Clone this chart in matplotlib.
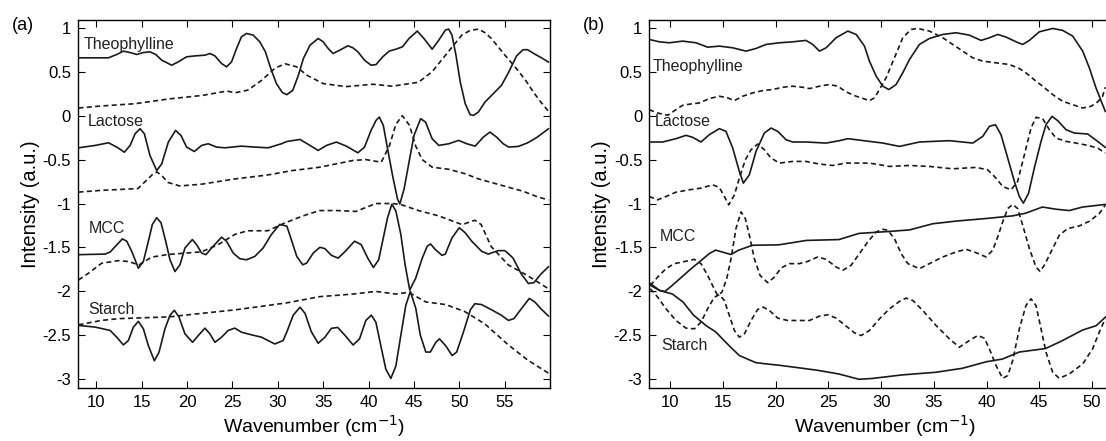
import matplotlib
matplotlib.use('Agg')
import matplotlib.pyplot as plt
from matplotlib.ticker import FuncFormatter

plt.rcParams['font.family'] = ['Liberation Sans', 'DejaVu Sans']

# ---- panel (a) ----
a_theo_x = [8.06, 11.36, 12.27, 13.0, 13.74, 14.47, 15.2, 15.93, 16.56, 17.22, 18.32, 19.05, 19.96, 20.88, 21.98, 22.53,
            23.08, 23.81, 24.36, 24.91, 25.46, 26.0, 26.56, 27.29, 28.02, 28.64, 29.23, 29.85, 30.51, 31.0, 31.65, 32.27,
            32.82, 33.55, 34.45, 35.0, 35.55, 36.09, 36.82, 37.73, 38.27, 38.82, 39.55, 40.27, 40.82, 41.55, 42.27, 43.0,
            43.73, 44.45, 45.36, 46.09, 47.0, 47.73, 48.45, 48.82, 49.18, 49.62, 50.09, 50.64, 51.18, 51.55, 52.09, 52.82,
            53.73, 54.64, 55.44, 56.3, 57.0, 57.5, 58.3, 59.0, 59.8]
a_theo_s = [0.658, 0.658, 0.696, 0.734, 0.718, 0.696, 0.718, 0.726, 0.696, 0.631, 0.574, 0.612, 0.669, 0.680, 0.688, 0.707,
            0.680, 0.593, 0.555, 0.612, 0.764, 0.897, 0.935, 0.916, 0.84, 0.726, 0.536, 0.365, 0.262, 0.239, 0.288, 0.46,
            0.65, 0.802, 0.878, 0.84, 0.764, 0.707, 0.745, 0.795, 0.772, 0.726, 0.631, 0.574, 0.581, 0.669, 0.734, 0.756,
            0.783, 0.878, 0.962, 0.878, 0.756, 0.859, 0.973, 0.985, 0.916, 0.688, 0.384, 0.136, 0.011, 0.003, 0.041, 0.155,
            0.25, 0.346, 0.498, 0.68, 0.75, 0.75, 0.70, 0.66, 0.61]
a_theo_dx = [8.06, 10.6, 14.3, 18.0, 21.7, 24.4, 25.3, 26.7, 28.2, 29.7, 30.8, 32.1, 33.2, 35.0, 37.5, 40.5, 42.6, 45.5, 47.0,
             48.8, 50.3, 51.2, 52.1, 52.8, 53.5, 55.0, 56.4, 57.3, 58.2, 59.0, 59.8]
a_theo_d = [0.087, 0.11, 0.136, 0.19, 0.23, 0.28, 0.26, 0.29, 0.40, 0.54, 0.59, 0.555, 0.46, 0.365, 0.33, 0.357, 0.335, 0.38,
            0.50, 0.73, 0.92, 0.97, 0.985, 0.945, 0.88, 0.69, 0.52, 0.40, 0.26, 0.15, 0.05]

a_lac_x = [8.06, 9.89, 11.36, 12.27, 13.11, 13.74, 14.29, 14.84, 15.31, 15.93, 16.67, 17.22, 17.95, 18.75, 19.34, 19.96,
           20.81, 21.61, 22.34, 23.26, 24.18, 26.0, 27.47, 28.94, 30.4, 31.0, 32.45, 33.55, 34.45, 35.36, 36.45, 37.55,
           38.82, 39.55, 40.27, 40.82, 41.18, 41.62, 42.09, 42.64, 43.18, 43.44, 43.91, 44.45, 45.0, 45.73, 46.27, 47.0,
           47.73, 48.82, 49.91, 50.82, 51.73, 52.64, 53.36, 54.09, 54.82, 55.44, 56.5, 57.5, 58.5, 59.8]
a_lac_s = [-0.366, -0.339, -0.309, -0.358, -0.416, -0.339, -0.206, -0.149, -0.206, -0.454, -0.625, -0.549, -0.301, -0.168,
           -0.225, -0.358, -0.408, -0.339, -0.32, -0.358, -0.366, -0.347, -0.358, -0.366, -0.32, -0.294, -0.271, -0.339,
           -0.396, -0.339, -0.301, -0.347, -0.423, -0.358, -0.168, -0.054, -0.016, -0.111, -0.377, -0.682, -0.948, -1.005,
           -0.834, -0.53, -0.225, -0.035, -0.073, -0.263, -0.339, -0.32, -0.282, -0.32, -0.347, -0.244, -0.187, -0.244,
           -0.32, -0.358, -0.35, -0.31, -0.25, -0.15]
a_lac_dx = [8.06, 10.6, 14.6, 15.6, 16.2, 16.7, 17.3, 17.9, 19.2, 21.6, 25.3, 28.9, 31.6, 34.6, 38.3, 39.7, 41.4, 42.3, 43.0,
            43.7, 44.5, 45.2, 45.9, 47.0, 48.8, 50.6, 52.1, 53.5, 55.4, 57.0, 58.5, 59.8]
a_lac_d = [-0.87, -0.85, -0.83, -0.73, -0.67, -0.64, -0.69, -0.76, -0.80, -0.78, -0.72, -0.675, -0.625, -0.587, -0.51, -0.50,
           -0.53, -0.34, -0.10, 0.0, -0.11, -0.35, -0.50, -0.587, -0.61, -0.66, -0.72, -0.76, -0.815, -0.86, -0.92, -0.96]

a_mcc_x = [8.06, 10.99, 11.54, 12.89, 13.37, 13.92, 14.65, 15.2, 15.75, 16.19, 16.67, 17.14, 17.66, 18.13, 18.68, 19.23,
           19.78, 20.59, 21.06, 21.61, 22.09, 22.71, 23.81, 24.36, 25.09, 25.82, 26.56, 27.47, 28.39, 29.3, 30.22, 31.0,
           31.55, 32.09, 32.75, 33.18, 33.91, 34.64, 35.18, 35.91, 36.64, 37.36, 38.45, 39.18, 39.91, 40.53, 41.11, 41.62,
           42.09, 42.56, 43.0, 43.55, 44.02, 44.53, 45.18, 45.91, 46.45, 46.82, 47.36, 48.09, 48.45, 49.18, 49.98, 50.64,
           51.36, 52.45, 53.18, 54.27, 55.0, 55.44, 55.9, 56.8, 57.6, 58.2, 59.0, 59.8]
a_mcc_s = [-1.582, -1.575, -1.552, -1.402, -1.429, -1.544, -1.736, -1.659, -1.429, -1.238, -1.161, -1.218, -1.429, -1.64,
           -1.774, -1.697, -1.506, -1.41, -1.467, -1.563, -1.582, -1.506, -1.383, -1.429, -1.563, -1.628, -1.64, -1.602,
           -1.506, -1.352, -1.238, -1.257, -1.429, -1.602, -1.697, -1.678, -1.563, -1.498, -1.513, -1.59, -1.621, -1.552,
           -1.429, -1.467, -1.621, -1.728, -1.64, -1.391, -1.161, -1.008, -1.084, -1.352, -1.697, -1.985, -1.851, -1.621,
           -1.487, -1.46, -1.525, -1.59, -1.575, -1.391, -1.276, -1.333, -1.429, -1.544, -1.575, -1.536, -1.536, -1.575,
           -1.62, -1.80, -1.91, -1.90, -1.80, -1.72]
a_mcc_dx = [8.06, 9.2, 10.6, 12.4, 13.6, 14.7, 16.1, 17.9, 21.6, 23.4, 25.3, 26.7, 28.9, 30.8, 32.8, 34.6, 36.5, 38.6, 40.8,
            42.6, 43.5, 45.5, 47.7, 50.3, 51.7, 52.4, 53.5, 55.4, 57.5, 59.8]
a_mcc_d = [-1.87, -1.79, -1.68, -1.65, -1.66, -1.70, -1.61, -1.58, -1.55, -1.47, -1.35, -1.31, -1.31, -1.22, -1.14, -1.08,
           -1.08, -1.09, -1.0, -1.0, -1.01, -1.08, -1.14, -1.24, -1.19, -1.24, -1.49, -1.70, -1.82, -1.97]

a_sta_x = [8.06, 9.89, 11.54, 12.27, 13.0, 13.55, 14.1, 14.65, 15.2, 15.75, 16.41, 16.92, 17.58, 18.13, 18.61, 19.12, 19.78,
           20.62, 21.25, 21.98, 22.53, 23.08, 23.81, 24.54, 25.27, 26.0, 27.11, 28.21, 29.67, 30.59, 31.0, 31.7, 32.45,
           33.0, 33.7, 34.45, 35.2, 35.9, 36.6, 37.4, 38.3, 39.0, 39.7, 40.3, 40.8, 41.35, 41.9, 42.45, 43.0, 43.55, 44.1,
           44.6, 45.2, 45.7, 46.3, 46.8, 47.4, 47.8, 48.5, 49.2, 49.7, 50.45, 51.2, 51.7, 52.45, 53.55, 54.6, 55.4, 56.0,
           56.8, 57.7, 58.3, 59.0, 59.8]
a_sta_s = [-2.387, -2.406, -2.444, -2.521, -2.609, -2.559, -2.406, -2.341, -2.425, -2.617, -2.789, -2.693, -2.425, -2.272,
           -2.215, -2.291, -2.483, -2.579, -2.502, -2.418, -2.483, -2.579, -2.521, -2.444, -2.418, -2.464, -2.494, -2.521,
           -2.598, -2.559, -2.46, -2.27, -2.18, -2.25, -2.46, -2.59, -2.52, -2.42, -2.41, -2.50, -2.61, -2.54, -2.33, -2.27,
           -2.35, -2.62, -2.885, -2.99, -2.85, -2.50, -2.157, -2.0, -2.195, -2.50, -2.69, -2.69, -2.58, -2.54, -2.62, -2.73,
           -2.69, -2.46, -2.21, -2.14, -2.15, -2.21, -2.27, -2.33, -2.31, -2.20, -2.08, -2.12, -2.20, -2.28]
a_sta_dx = [8.06, 10.6, 12.45, 18.0, 21.6, 25.3, 28.9, 31.0, 34.6, 38.3, 40.8, 43.0, 44.4, 46.3, 48.5, 50.6, 52.8, 55.4, 57.5,
            59.8]
a_sta_d = [-2.38, -2.33, -2.31, -2.29, -2.25, -2.21, -2.16, -2.13, -2.06, -2.03, -2.0, -2.03, -2.01, -2.12, -2.15, -2.23,
           -2.37, -2.61, -2.78, -2.93]

# ---- panel (b) ----
b_theo_x = [8.0, 8.96, 9.91, 11.17, 12.44, 13.54, 14.65, 15.92, 17.18, 18.13, 19.08, 20.35, 21.61, 22.88, 23.51, 24.15,
            24.78, 25.73, 26.84, 27.63, 28.42, 28.89, 29.53, 30.16, 30.73, 31.42, 32.05, 32.69, 33.63, 34.58, 35.85, 37.11,
            38.37, 39.48, 40.27, 41.06, 41.85, 42.8, 43.43, 44.06, 45.01, 46.27, 47.22, 48.17, 49.12, 49.75, 50.38, 51.01,
            51.26]
b_theo_s = [0.867, 0.84, 0.829, 0.848, 0.829, 0.779, 0.791, 0.772, 0.734, 0.764, 0.81, 0.829, 0.84, 0.856, 0.81, 0.734,
            0.772, 0.886, 0.962, 0.924, 0.791, 0.62, 0.449, 0.335, 0.297, 0.354, 0.487, 0.639, 0.81, 0.878, 0.924, 0.943,
            0.916, 0.856, 0.886, 0.924, 0.894, 0.84, 0.81, 0.856, 0.954, 0.992, 0.97, 0.905, 0.734, 0.544, 0.316, 0.125,
            0.049]
b_theo_dx = [8.0, 8.8, 9.75, 10.54, 11.17, 11.96, 12.75, 13.7, 14.65, 15.44, 16.08, 16.87, 17.82, 18.77, 19.72, 20.66, 21.61,
             22.56, 23.2, 24.15, 25.09, 25.89, 26.68, 27.63, 28.58, 28.89, 29.37, 29.84, 30.47, 31.26, 32.05, 32.84, 33.48,
             34.58, 35.85, 36.79, 37.74, 38.69, 39.64, 40.9, 42.16, 43.11, 43.74, 44.69, 45.32, 46.27, 47.22, 48.17, 49.12,
             49.91, 50.54, 51.01, 51.26]
b_theo_d = [0.068, 0.03, 0.004, 0.068, 0.118, 0.133, 0.144, 0.194, 0.221, 0.202, 0.171, 0.221, 0.259, 0.285, 0.297, 0.323,
            0.335, 0.323, 0.308, 0.335, 0.354, 0.335, 0.27, 0.221, 0.183, 0.171, 0.202, 0.297, 0.43, 0.658, 0.886, 0.981,
            0.992, 0.962, 0.886, 0.81, 0.734, 0.658, 0.62, 0.601, 0.582, 0.536, 0.487, 0.392, 0.335, 0.24, 0.163, 0.125,
            0.087, 0.106, 0.156, 0.221, 0.323]

b_lac_x = [8.0, 9.27, 10.54, 11.49, 12.12, 12.91, 13.7, 14.65, 15.28, 15.92, 16.55, 16.93, 17.5, 18.13, 18.92, 19.56, 20.19,
           20.98, 21.61, 22.88, 24.78, 26.04, 26.84, 28.89, 30.16, 31.74, 33.63, 36.48, 38.69, 39.64, 40.27, 40.84, 41.37,
           42.01, 42.64, 43.11, 43.49, 43.99, 44.53, 45.17, 45.64, 46.21, 46.75, 47.54, 48.33, 49.59, 50.54, 51.26]
b_lac_s = [-0.30, -0.30, -0.262, -0.224, -0.247, -0.30, -0.217, -0.148, -0.179, -0.369, -0.635, -0.768, -0.673, -0.407,
           -0.198, -0.141, -0.179, -0.274, -0.30, -0.30, -0.312, -0.285, -0.262, -0.293, -0.312, -0.35, -0.30, -0.285,
           -0.312, -0.236, -0.122, -0.103, -0.217, -0.483, -0.749, -0.92, -0.996, -0.882, -0.597, -0.293, -0.103, -0.008,
           -0.057, -0.16, -0.198, -0.209, -0.293, -0.361]
b_lac_dx = [8.0, 8.8, 9.59, 10.54, 11.8, 12.91, 14.02, 14.65, 15.13, 15.54, 16.08, 16.55, 17.12, 17.66, 18.29, 18.92, 19.56,
            20.35, 21.61, 22.88, 24.15, 25.41, 26.68, 28.89, 30.79, 32.69, 34.58, 36.79, 39.0, 40.11, 40.9, 41.53, 42.32,
            42.95, 43.59, 44.22, 44.69, 45.32, 45.96, 46.59, 47.54, 48.48, 49.59, 50.54, 51.26]
b_lac_d = [-0.92, -0.958, -0.92, -0.871, -0.844, -0.825, -0.787, -0.817, -0.92, -1.015, -0.901, -0.711, -0.502, -0.388,
           -0.323, -0.388, -0.483, -0.54, -0.521, -0.521, -0.551, -0.567, -0.54, -0.54, -0.578, -0.567, -0.578, -0.605,
           -0.589, -0.616, -0.711, -0.806, -0.844, -0.749, -0.445, -0.141, -0.019, -0.034, -0.16, -0.255, -0.293, -0.312,
           -0.338, -0.369, -0.426]

b_mcc_x = [8.1, 9.0, 9.5, 10.2, 11.8, 13.7, 14.3, 15.75, 16.5, 17.8, 20.3, 22.9, 26.0, 27.9, 29.2, 30.5, 32.7, 34.9, 37.1,
           40.0, 42.5, 43.7, 45.3, 46.6, 47.85, 49.1, 51.3]
b_mcc_s = [-1.93, -1.99, -2.0, -1.93, -1.76, -1.57, -1.53, -1.58, -1.53, -1.475, -1.47, -1.42, -1.41, -1.34, -1.33, -1.32,
           -1.30, -1.23, -1.20, -1.17, -1.14, -1.11, -1.04, -1.065, -1.08, -1.04, -1.01]
b_mcc_dx = [8.1, 8.8, 9.59, 10.38, 11.17, 12.28, 12.91, 13.54, 14.08, 14.49, 14.9, 15.35, 15.76, 16.23, 16.71, 17.12, 17.5,
            17.97, 18.51, 19.24, 19.87, 20.51, 21.3, 22.25, 23.04, 23.99, 24.78, 25.73, 26.36, 27.15, 27.94, 28.73, 29.53,
            30.16, 30.63, 31.26, 31.9, 32.53, 33.63, 34.58, 35.85, 37.11, 38.06, 39.0, 39.95, 40.58, 41.06, 41.53, 42.01,
            42.48, 42.95, 43.43, 44.06, 44.69, 45.07, 45.48, 46.11, 46.9, 47.69, 48.8, 49.75, 50.69, 51.26]
b_mcc_d = [-1.932, -1.837, -1.741, -1.684, -1.665, -1.635, -1.684, -1.817, -1.951, -2.046, -2.008, -1.856, -1.627, -1.285,
           -1.095, -1.171, -1.361, -1.627, -1.817, -1.901, -1.837, -1.734, -1.684, -1.684, -1.658, -1.608, -1.635, -1.722,
           -1.76, -1.703, -1.57, -1.437, -1.323, -1.293, -1.304, -1.399, -1.57, -1.684, -1.741, -1.684, -1.608, -1.551,
           -1.521, -1.559, -1.608, -1.532, -1.38, -1.209, -1.057, -1.011, -1.057, -1.247, -1.513, -1.722, -1.772, -1.703,
           -1.551, -1.361, -1.285, -1.255, -1.202, -1.114, -1.019]

b_sta_x = [8.1, 9.0, 10.2, 11.2, 12.2, 13.4, 14.3, 15.6, 16.55, 18.1, 19.1, 20.3, 22.25, 24.1, 26.0, 27.9, 29.2, 32.0, 35.2,
           37.7, 40.0, 41.5, 43.1, 45.6, 47.2, 49.1, 50.4, 51.3]
b_sta_s = [-1.91, -1.99, -2.03, -2.12, -2.27, -2.39, -2.46, -2.62, -2.73, -2.81, -2.825, -2.84, -2.87, -2.90, -2.94, -3.0,
           -2.99, -2.95, -2.92, -2.875, -2.80, -2.77, -2.69, -2.65, -2.56, -2.44, -2.39, -2.29]
b_sta_dx = [8.1, 8.8, 9.59, 10.54, 11.49, 12.28, 12.91, 13.54, 14.18, 14.65, 15.13, 15.6, 16.08, 16.55, 17.03, 17.66, 18.29,
            18.83, 19.4, 20.19, 21.14, 22.25, 23.2, 24.15, 24.94, 25.73, 26.68, 27.47, 28.1, 28.89, 29.84, 30.79, 31.74,
            32.37, 33.0, 33.95, 35.21, 36.48, 37.42, 38.37, 39.16, 39.79, 40.27, 40.9, 41.53, 42.01, 42.48, 43.11, 43.74,
            44.22, 44.69, 45.17, 45.64, 46.27, 46.9, 47.85, 49.12, 50.06, 50.69, 51.26]
b_sta_d = [-1.97, -2.065, -2.198, -2.331, -2.418, -2.426, -2.35, -2.198, -2.065, -2.038, -2.103, -2.274, -2.445, -2.521,
           -2.483, -2.331, -2.205, -2.179, -2.217, -2.304, -2.331, -2.331, -2.331, -2.281, -2.266, -2.304, -2.395, -2.471,
           -2.502, -2.445, -2.312, -2.198, -2.114, -2.076, -2.103, -2.217, -2.388, -2.54, -2.635, -2.559, -2.502, -2.532,
           -2.654, -2.844, -2.989, -2.958, -2.787, -2.426, -2.16, -2.084, -2.16, -2.426, -2.692, -2.92, -2.989, -2.939,
           -2.825, -2.654, -2.464, -2.312]

names = ['Theophylline', 'Lactose', 'MCC', 'Starch']
a_label_pos = [(8.6, 0.81), (9.1, -0.07), (9.2, -1.28), (9.1, -2.21)]
b_label_pos = [(8.3, 0.56), (8.5, -0.07), (9.0, -1.38), (9.1, -2.62)]

a_series = [(a_theo_x, a_theo_s, a_theo_dx, a_theo_d), (a_lac_x, a_lac_s, a_lac_dx, a_lac_d),
            (a_mcc_x, a_mcc_s, a_mcc_dx, a_mcc_d), (a_sta_x, a_sta_s, a_sta_dx, a_sta_d)]
b_series = [(b_theo_x, b_theo_s, b_theo_dx, b_theo_d), (b_lac_x, b_lac_s, b_lac_dx, b_lac_d),
            (b_mcc_x, b_mcc_s, b_mcc_dx, b_mcc_d), (b_sta_x, b_sta_s, b_sta_dx, b_sta_d)]

fig = plt.figure(figsize=(11.06, 4.41), dpi=100)
ax_a = fig.add_axes([0.0705, 0.12, 0.427, 0.835])
ax_b = fig.add_axes([0.587, 0.12, 0.427, 0.835])

fmt = FuncFormatter(lambda v, p: ('%g' % v).replace('\u2212', '-'))

for ax, series, lpos, xlim, xt, tag in [(ax_a, a_series, a_label_pos, (8, 60), range(10, 60, 5), '(a)'),
                                        (ax_b, b_series, b_label_pos, (8, 52.8), range(10, 55, 5), '(b)')]:
    for (xs, ys, xd, yd), name, (tx, ty) in zip(series, names, lpos):
        ax.plot(xs, ys, color='#1a1a1a', lw=1.2)
        ax.plot(xd, yd, color='#1a1a1a', lw=1.2, dashes=(3, 2))
        ax.text(tx, ty, name, fontsize=11.5, color='#222222', va='center', ha='left')
    ax.set_xlim(*xlim)
    ax.set_ylim(-3.1, 1.09)
    ax.set_xticks(list(xt))
    ax.set_yticks([1, 0.5, 0, -0.5, -1, -1.5, -2, -2.5, -3])
    ax.yaxis.set_major_formatter(fmt)
    ax.tick_params(direction='in', top=True, right=True, length=5, labelsize=12, pad=5)
    for sp in ax.spines.values():
        sp.set_linewidth(1.0)
    ax.set_xlabel('Wavenumber (cm$^{-1}$)', fontsize=14, labelpad=2)
    ax.set_ylabel('Intensity (a.u.)', fontsize=14.5, labelpad=2)
    ax.text(-0.14, 0.985, tag, transform=ax.transAxes, fontsize=13, va='center', ha='left')

plt.savefig('out.png', dpi=100)
